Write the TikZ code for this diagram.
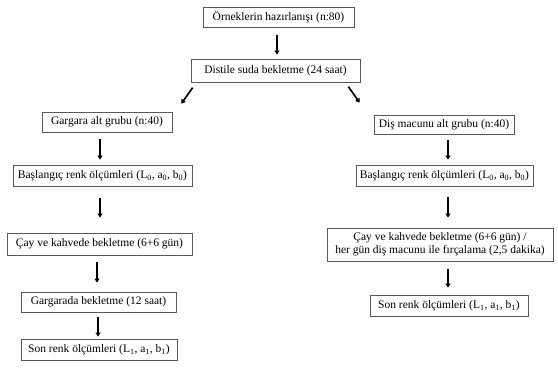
\documentclass[tikz,border=0pt]{standalone}
\usepackage{fontspec}
\setmainfont{Liberation Serif}
\usetikzlibrary{arrows.meta}
\begin{document}
\begin{tikzpicture}[x=1pt,y=1pt,
  box/.style={draw=black!65,line width=0.7pt,inner sep=0pt,font=\fontsize{11.5}{13.5}\selectfont,align=center},
  arr/.style={line width=1.7pt,-{Triangle[width=5pt,length=4pt]}}]
\useasboundingbox (0,0) rectangle (558,-369);
\fill[white] (0,0) rectangle (558,-369);
\node[box,minimum width=151,minimum height=20] (b1) at (278.5,-17) {Örneklerin hazırlanışı (n:80)};
\node[box,minimum width=169,minimum height=23] (b2) at (275.5,-70.5) {Distile suda bekletme (24 saat)};
\node[box,minimum width=130,minimum height=20] (l1) at (107,-122) {Gargara alt grubu (n:40)};
\node[box,minimum width=179,minimum height=21] (l2) at (102.5,-175.5) {Başlangıç renk ölçümleri (L\textsubscript{0}, a\textsubscript{0}, b\textsubscript{0})};
\node[box,minimum width=185,minimum height=22] (l3) at (99.5,-244) {Çay ve kahvede bekletme (6+6 gün)};
\node[box,minimum width=155,minimum height=20] (l4) at (98.5,-302) {Gargarada bekletme (12 saat)};
\node[box,minimum width=156,minimum height=21] (l5) at (99,-349.5) {Son renk ölçümleri (L\textsubscript{1}, a\textsubscript{1}, b\textsubscript{1})};
\node[box,minimum width=140,minimum height=19] (r1) at (444,-124.5) {Diş macunu alt grubu (n:40)};
\node[box,minimum width=177,minimum height=21] (r2) at (444.5,-175.5) {Başlangıç renk ölçümleri (L\textsubscript{0}, a\textsubscript{0}, b\textsubscript{0})};
\node[box,minimum width=226,minimum height=33] (r3) at (440,-244.5) {Çay ve kahvede bekletme (6+6 gün) /\\her gün diş macunu ile fırçalama (2,5 dakika)};
\node[box,minimum width=158,minimum height=21] (r4) at (449,-305.5) {Son renk ölçümleri (L\textsubscript{1}, a\textsubscript{1}, b\textsubscript{1})};
% vertical arrows
\draw[arr,shorten <=8pt,shorten >=4pt] ([xshift=-1.5pt]b1.south) -- ([xshift=-1.5pt]b1.south |- b2.north);
\draw[arr,shorten <=7pt,shorten >=5pt] ([xshift=-7pt]l1.south) -- ([xshift=-7pt]l1.south |- l2.north);
\draw[arr,shorten <=12pt,shorten >=15pt] ([xshift=-2.5pt]l2.south) -- ([xshift=-2.5pt]l2.south |- l3.north);
\draw[arr,shorten <=7pt,shorten >=9pt] ([xshift=-2.5pt]l3.south) -- ([xshift=-2.5pt]l3.south |- l4.north);
\draw[arr,shorten <=5pt,shorten >=2pt] ([xshift=-0.5pt]l4.south) -- ([xshift=-0.5pt]l4.south |- l5.north);
\draw[arr,shorten <=6pt,shorten >=5pt] ([xshift=4pt]r1.south) -- ([xshift=4pt]r1.south |- r2.north);
\draw[arr,shorten <=11pt,shorten >=10pt] ([xshift=3.5pt]r2.south) -- ([xshift=3.5pt]r2.south |- r3.north);
\draw[arr,shorten <=8pt,shorten >=7pt] ([xshift=8pt]r3.south) -- ([xshift=8pt]r3.south |- r4.north);
% diagonal arrows
\draw[arr] ([shift={(2,-5.3)}]b2.south west) -- ([shift={(9,8)}]l1.north east);
\draw[arr] ([shift={(-12,-4.3)}]b2.south east) -- ([shift={(-14,12)}]r1.north west);
\end{tikzpicture}
\end{document}
